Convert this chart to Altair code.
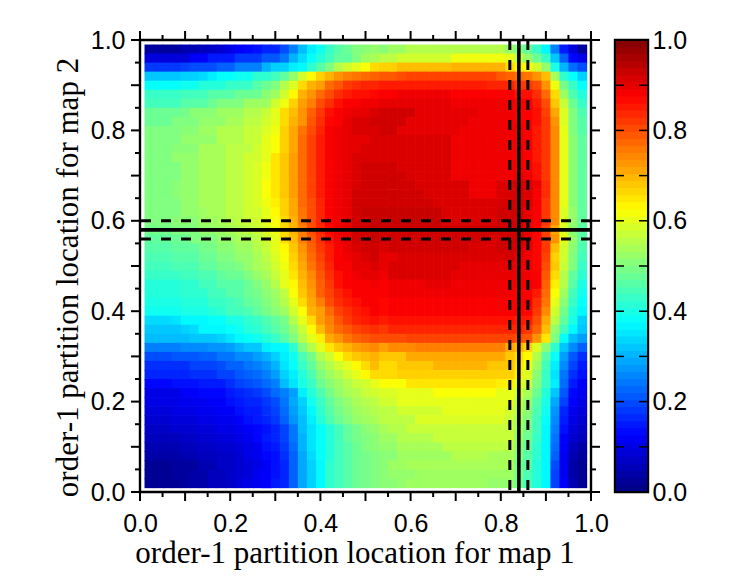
import altair as alt
import pandas as pd

# cell centres of the 49x49 map
centers = [0.02, 0.04, 0.06, 0.08, 0.10, 0.12, 0.14, 0.16, 0.18, 0.20, 0.22, 0.24, 0.26, 0.28, 0.30, 0.32, 0.34,
           0.36, 0.38, 0.40, 0.42, 0.44, 0.46, 0.48, 0.50, 0.52, 0.54, 0.56, 0.58, 0.60, 0.62, 0.64, 0.66, 0.68,
           0.70, 0.72, 0.74, 0.76, 0.78, 0.80, 0.82, 0.84, 0.86, 0.88, 0.90, 0.92, 0.94, 0.96, 0.98]

# values in percent, first row is the top of the map (y=0.98 down to y=0.02)
grid = [
    [3,3,3,3,5,5,6,7,8,10,12,13,14,16,16,20,25,31,36,39,43,46,48,50,51,52, 51,53,53,55,55,55,55,55,55,55,55,55,55,55,52,50,47,43,37,25,15,9,3],
    [9,9,9,9,9,12,12,15,15,15,18,18,18,21,21,24,30,34,38,41,44,47,47,50,53,54, 56,56,58,58,58,58,58,58,61,61,61,61,61,61,60,56,52,48,43,32,22,13,10],
    [18,18,18,18,19,20,20,20,22,22,25,25,25,30,33,33,36,37,42,46,50,55,58,60,62,66, 67,67,69,69,69,69,69,69,70,70,70,70,70,70,66,64,63,58,52,40,30,23,20],
    [32,32,32,32,33,33,34,36,38,38,39,39,42,42,44,47,52,58,63,67,70,73,75,76,77,78, 79,79,80,81,81,81,81,81,81,81,81,81,81,79,78,77,76,73,69,54,42,38,33],
    [38,38,38,38,39,39,41,41,41,43,43,43,46,48,50,55,59,66,70,72,77,79,82,83,84,84, 85,85,85,85,85,85,85,85,85,85,85,85,84,84,84,82,82,80,73,61,49,43,38],
    [43,43,43,43,44,44,44,46,46,46,48,48,48,51,53,58,63,70,73,77,80,83,85,86,86,87, 88,88,89,89,89,89,89,89,88,88,88,88,88,88,88,86,86,83,77,66,53,45,41],
    [44,44,44,44,46,46,46,48,50,50,50,53,53,53,58,61,67,72,75,80,83,86,88,88,89,89, 90,90,90,90,90,90,90,90,89,89,89,89,89,89,89,88,88,85,80,68,57,48,43],
    [48,48,48,48,49,51,51,51,53,53,53,55,55,57,60,66,69,73,78,82,86,88,89,90,90,91, 92,92,92,92,90,90,90,90,90,90,90,89,89,89,89,88,88,86,81,71,59,50,45],
    [48,48,48,50,50,50,52,52,52,54,54,56,56,58,60,66,70,73,79,83,87,88,90,91,91,92, 92,92,92,90,90,90,90,90,90,90,89,89,89,89,89,88,88,86,82,73,59,50,46],
    [50,50,50,50,51,51,53,53,55,55,55,57,57,59,61,67,71,76,80,84,88,89,90,91,91,91, 92,92,90,90,90,90,90,90,90,89,89,89,89,89,89,89,88,85,82,74,60,50,46],
    [50,50,50,50,52,52,52,52,55,55,55,57,57,60,62,67,71,77,81,85,88,89,90,90,90,91, 91,91,91,91,91,91,91,91,89,89,89,89,89,89,89,89,88,85,82,74,60,51,47],
    [50,50,50,51,51,51,54,54,54,56,56,56,58,60,62,67,71,77,81,85,88,89,90,90,91,91, 91,91,91,91,91,91,91,91,89,89,89,89,89,89,89,89,88,85,82,74,60,51,47],
    [50,50,50,52,52,52,54,54,54,56,56,58,58,60,65,68,72,77,81,85,88,89,90,91,91,91, 91,91,91,91,91,91,91,91,89,89,89,89,89,89,89,89,88,85,82,74,60,51,47],
    [50,50,50,50,52,52,54,54,54,56,56,58,59,61,65,68,72,77,81,85,88,89,90,91,92,92, 92,92,91,91,91,91,91,91,89,89,89,89,89,89,89,89,88,86,82,74,60,51,47],
    [50,50,50,50,52,52,54,54,54,56,56,58,59,61,65,68,72,77,81,85,88,89,90,91,92,92, 92,92,92,91,91,91,91,91,89,89,89,89,89,89,89,90,89,86,82,74,60,51,47],
    [50,50,50,51,52,52,54,54,54,56,56,58,59,62,65,68,72,77,81,85,88,89,90,91,92,92, 92,92,92,92,91,91,91,91,91,91,89,89,89,91,91,92,91,89,83,74,60,51,47],
    [50,50,50,51,52,52,54,54,54,56,56,58,59,62,65,68,72,77,81,85,88,89,90,92,92,92, 92,92,92,92,92,91,91,91,91,91,89,89,89,91,91,92,91,88,83,74,60,51,47],
    [50,50,50,50,52,52,54,54,54,56,56,58,59,61,64,67,71,77,80,84,88,89,90,92,92,92, 92,92,92,92,92,92,91,91,91,91,91,91,91,91,92,92,91,88,82,74,60,51,47],
    [50,50,50,50,52,52,53,54,54,56,56,58,58,60,63,67,71,76,80,84,88,89,90,92,93,93, 93,93,93,93,93,93,93,91,91,91,91,91,91,92,92,92,90,88,82,74,59,52,47],
    [50,50,50,51,51,51,53,53,54,55,56,57,58,60,62,66,70,76,80,84,88,89,90,92,92,93, 93,93,93,93,93,93,93,91,91,91,91,91,91,92,92,92,90,88,82,74,59,52,47],
    [49,49,49,50,50,50,52,52,53,54,55,56,57,59,61,66,70,75,80,84,87,89,90,92,92,93, 92,92,92,92,92,92,92,92,92,92,92,92,92,92,92,92,90,87,81,71,59,51,46],
    [47,47,47,48,48,50,50,50,52,52,54,54,56,58,60,66,69,75,79,83,86,89,90,92,92,93, 92,92,92,92,92,92,92,92,92,92,92,92,91,92,92,92,90,87,81,73,60,52,46],
    [46,46,46,47,47,47,49,49,51,51,53,53,55,57,60,63,68,73,78,82,85,88,90,91,92,92, 91,92,92,92,92,92,92,92,92,92,91,91,91,92,92,91,90,87,82,69,58,51,45],
    [45,45,45,46,46,46,48,48,50,50,52,52,54,56,59,62,67,72,77,81,85,88,89,90,91,92, 90,90,91,91,91,91,91,91,91,91,91,91,91,91,92,90,89,87,81,67,58,50,44],
    [44,44,44,45,45,45,47,47,49,49,50,52,54,55,58,61,66,71,76,80,84,88,88,90,90,91, 90,91,91,91,91,91,91,91,91,90,90,90,90,90,90,89,89,87,80,68,57,50,43],
    [43,43,43,43,44,44,45,45,47,48,48,50,52,54,57,60,65,70,74,79,83,86,88,89,90,90, 89,91,91,91,91,91,91,91,90,90,90,90,90,90,90,90,89,88,79,66,55,47,42],
    [41,41,41,41,42,42,44,44,46,46,46,48,50,52,55,60,63,69,73,78,82,86,88,88,88,89, 88,89,89,89,89,90,90,90,89,89,89,89,89,89,89,89,89,88,78,64,55,46,40],
    [41,41,41,41,42,42,42,44,44,46,46,48,49,51,53,56,62,68,72,78,81,84,86,88,88,88, 88,89,89,89,89,89,89,89,89,89,89,89,89,89,89,88,88,85,77,62,53,44,39],
    [40,40,40,40,41,41,41,43,43,44,45,47,48,50,52,55,60,66,71,75,80,83,85,86,88,88, 87,88,88,88,88,88,88,88,88,88,88,88,88,88,88,88,88,83,76,60,51,43,38],
    [39,39,39,39,40,40,40,41,42,44,44,45,47,49,51,53,58,62,70,72,77,81,83,85,86,88, 87,88,88,88,88,88,88,88,88,88,88,88,88,88,88,88,87,82,74,58,49,41,37],
    [34,34,34,35,37,37,37,38,38,40,40,42,43,45,47,49,55,60,66,72,75,79,82,84,85,86, 85,86,86,86,86,86,86,86,86,86,86,86,86,86,86,85,85,80,71,56,47,40,33],
    [32,32,32,32,33,34,37,37,37,38,39,41,42,44,46,48,52,57,63,69,74,77,79,81,82,83, 82,84,84,84,84,84,84,84,84,84,84,84,84,84,84,84,82,78,69,52,44,37,32],
    [31,31,31,31,31,32,32,32,33,35,37,38,39,41,43,46,50,55,60,64,71,73,76,78,79,80, 80,80,80,81,81,81,81,81,81,81,81,81,81,81,81,80,79,73,65,50,38,31,28],
    [25,25,25,25,26,26,26,27,27,28,30,32,32,36,37,37,42,50,55,60,65,68,70,72,73,74, 72,74,74,74,75,75,75,75,75,75,75,75,75,75,71,70,67,59,51,42,32,26,22],
    [20,20,20,21,21,21,22,22,24,24,26,26,28,30,33,36,39,45,49,55,58,62,66,68,69,70, 68,68,68,71,71,71,71,71,71,71,71,71,71,71,68,66,63,55,46,38,28,21,17],
    [17,17,17,17,17,19,19,19,20,22,22,24,25,27,30,35,38,43,47,52,55,58,60,63,66,69, 66,66,68,68,68,68,70,70,70,70,70,70,68,68,68,65,61,53,44,36,26,19,15],
    [16,16,16,16,16,17,17,17,19,19,21,22,23,25,28,33,36,41,45,50,53,55,58,60,63,66, 66,66,67,67,67,67,67,67,67,67,67,67,67,67,67,64,59,51,43,35,24,17,14],
    [13,13,13,14,14,14,15,15,15,17,19,20,21,23,25,31,35,40,43,48,51,53,55,57,58,60, 62,62,62,65,65,65,65,65,65,65,65,65,65,64,64,60,57,50,43,36,23,15,12],
    [10,10,10,10,12,12,13,13,13,15,16,17,18,20,23,25,28,36,41,45,49,52,54,55,57,58, 59,59,60,60,60,60,62,62,62,62,62,62,62,60,60,58,54,48,41,32,21,13,11],
    [10,10,10,10,11,11,11,12,12,14,15,16,16,18,20,24,29,33,39,43,47,50,52,54,55,56, 58,58,60,60,60,60,60,60,60,60,60,60,60,60,60,56,52,46,40,29,19,12,10],
    [9,9,9,10,10,10,11,11,12,12,14,15,15,17,19,23,28,32,37,42,46,49,51,53,54,55, 56,56,58,58,58,58,58,60,60,60,60,60,60,60,58,55,51,45,39,27,16,11,9],
    [8,8,8,9,9,9,10,10,11,11,12,14,15,16,18,22,27,31,36,41,45,48,50,52,53,54, 56,56,56,56,59,59,59,59,59,59,59,59,59,59,57,54,50,44,38,26,15,10,8],
    [7,7,7,8,8,8,9,9,10,10,11,12,13,14,16,19,24,31,35,38,41,44,47,49,51,52, 54,55,55,57,57,57,57,57,57,57,57,57,57,57,57,53,49,44,37,25,14,9,7],
    [6,6,6,6,7,7,8,8,9,9,10,11,13,15,16,19,24,30,35,38,41,44,47,49,50,51, 53,53,55,55,55,55,57,57,57,57,57,57,57,57,57,52,48,43,37,24,12,8,6],
    [5,5,5,5,6,6,7,7,8,8,9,10,11,14,15,18,23,30,35,38,41,44,46,48,50,51, 52,52,54,54,54,54,54,56,56,56,56,56,56,56,56,51,47,42,37,23,12,6,4],
    [4,4,4,4,5,5,6,6,7,7,8,10,11,13,14,17,22,29,34,38,41,44,46,48,49,50, 51,51,53,53,53,53,53,53,55,55,55,55,54,54,54,50,46,42,37,22,11,5,3],
    [2,2,2,3,3,3,5,5,7,7,8,9,10,12,14,16,22,29,33,37,42,44,46,48,49,50, 51,53,53,54,54,54,54,54,54,54,54,54,54,54,54,49,46,41,37,20,11,4,2],
    [2,2,2,3,3,4,4,6,6,7,8,9,11,12,14,16,22,29,33,37,42,44,46,48,49,50, 51,52,52,52,53,53,53,53,53,53,53,53,53,53,53,49,45,41,37,19,11,4,2],
    [2,2,2,2,3,4,4,6,6,7,9,10,11,12,15,16,22,29,33,37,42,44,46,48,49,50, 51,51,52,53,53,53,53,53,53,53,53,53,52,52,52,48,44,41,37,19,12,5,2],
]

# colour bar bands, lower edges
bar_levels = [0.000, 0.016, 0.031, 0.047, 0.062, 0.078, 0.094, 0.109, 0.125, 0.141, 0.156, 0.172, 0.188, 0.203,
              0.219, 0.234, 0.250, 0.266, 0.281, 0.297, 0.312, 0.328, 0.344, 0.359, 0.375, 0.391, 0.406, 0.422,
              0.438, 0.453, 0.469, 0.484, 0.500, 0.516, 0.531, 0.547, 0.562, 0.578, 0.594, 0.609, 0.625, 0.641,
              0.656, 0.672, 0.688, 0.703, 0.719, 0.734, 0.750, 0.766, 0.781, 0.797, 0.812, 0.828, 0.844, 0.859,
              0.875, 0.891, 0.906, 0.922, 0.938, 0.953, 0.969, 0.984]

label_ticks = [0.0, 0.2, 0.4, 0.6, 0.8, 1.0]
major_ticks = [0.0, 0.1, 0.2, 0.3, 0.4, 0.5, 0.6, 0.7, 0.8, 0.9, 1.0]
minor_ticks = [0.05, 0.15, 0.25, 0.35, 0.45, 0.55, 0.65, 0.75, 0.85, 0.95]
solid_x = [0.84]
dashed_x = [0.82, 0.86]
solid_y = [0.58]
dashed_y = [0.56, 0.60]

W = 451
H = 452
BAR_W = 33

stops = [0, 0.125, 0.375, 0.625, 0.875, 1]
stop_colors = ["#000080", "#0000ff", "#00ffff", "#ffff00", "#ff0000", "#800000"]
color_scale = alt.Scale(domain=stops, range=stop_colors, interpolate="rgb")
unit = alt.Scale(domain=[0, 1], nice=False, zero=False)

axis_opts = dict(values=label_ticks, format=".1f", ticks=False, domain=False, grid=False, labelFontSize=25,
                 labelFont="Liberation Sans", labelColor="black", labelFlush=False,
                 titleFont="Liberation Serif", titleFontSize=31, titleFontWeight="normal", titleColor="black")
x_axis = alt.Axis(title="order-1 partition location for map 1", labelPadding=19, titlePadding=2,
                  titleX=W / 2 - 11, **axis_opts)
y_axis = alt.Axis(title="order-1 partition location for map 2", labelPadding=15, titlePadding=6,
                  titleY=H / 2 + 11, **axis_opts)
bar_axis = alt.Axis(orient="right", values=label_ticks, format=".1f", ticks=False, domain=False, grid=False,
                    labelFontSize=25, labelFont="Liberation Sans", labelColor="black", labelPadding=4,
                    labelFlush=False, title=None)
px = alt.X("p:Q", scale=unit, axis=x_axis)
py = alt.Y("p:Q", scale=unit, axis=y_axis)

rows = []
for j, row in enumerate(grid):
    for i, v in enumerate(row):
        # small overlap so no seams show between the cells
        rows.append({"x0": centers[i] - 0.01, "x1": centers[i] + 0.0115,
                     "y0": centers[48 - j] - 0.0115, "y1": centers[48 - j] + 0.01, "v": v / 100})
cells = pd.DataFrame(rows)

heat = alt.Chart(cells).mark_rect().encode(
    x=alt.X("x0:Q", scale=unit, axis=x_axis),
    x2="x1:Q",
    y=alt.Y("y0:Q", scale=unit, axis=y_axis),
    y2="y1:Q",
    color=alt.Color("v:Q", scale=color_scale, legend=None),
)


def guide_lines(values, enc, dash=None):
    opts = {"color": "black", "strokeWidth": 3.6}
    if dash:
        opts["strokeDash"] = dash
        opts["strokeWidth"] = 3
    return alt.Chart(pd.DataFrame({"p": values})).mark_rule(**opts).encode(enc)


def outer_ticks(values, length, width):
    rule = alt.Chart(pd.DataFrame({"p": values})).mark_rule(color="black", strokeWidth=width)
    return [
        rule.encode(x=px, y=alt.value(H), y2=alt.value(H + length)),
        rule.encode(x=px, y=alt.value(-length), y2=alt.value(0)),
        rule.encode(y=py, x=alt.value(-length), x2=alt.value(0)),
        rule.encode(y=py, x=alt.value(W), x2=alt.value(W + length)),
    ]


main = alt.layer(
    heat,
    guide_lines(solid_x, px),
    guide_lines(dashed_x, px, [10, 10]),
    guide_lines(solid_y, py),
    guide_lines(dashed_y, py, [10, 10]),
    *outer_ticks(major_ticks, 9, 2),
    *outer_ticks(minor_ticks, 5, 2),
).properties(width=W, height=H)

bar_df = pd.DataFrame({"lo": bar_levels})
bar_df["hi"] = bar_df["lo"] + 0.0175
bar_df["mid"] = bar_df["lo"] + 0.0078
bar_y = alt.Y("p:Q", scale=unit, axis=bar_axis)

bar_rects = alt.Chart(bar_df).mark_rect().encode(
    y=alt.Y("lo:Q", scale=unit, axis=bar_axis),
    y2="hi:Q",
    color=alt.Color("mid:Q", scale=color_scale, legend=None),
)
bar_rule = alt.Chart(pd.DataFrame({"p": major_ticks[1:-1]})).mark_rule(color="black", strokeWidth=1.5)
bar_left = bar_rule.encode(y=bar_y, x=alt.value(0), x2=alt.value(9))
bar_right = bar_rule.encode(y=bar_y, x=alt.value(BAR_W - 9), x2=alt.value(BAR_W))
bar_frame = alt.Chart(pd.DataFrame({"a": [0], "b": [1]})).mark_rect(
    fill=None, stroke="black", strokeWidth=2
).encode(y=alt.Y("a:Q", scale=unit, axis=bar_axis), y2="b:Q")

bar = alt.layer(bar_rects, bar_left, bar_right, bar_frame).properties(width=BAR_W, height=H)

chart = alt.hconcat(main, bar, spacing=2).resolve_scale(color="independent").properties(
    padding={"left": 43, "top": 18, "right": 5, "bottom": 5}
).configure_view(stroke="black", strokeWidth=2.4)

chart.save("out.html", embed_options={"renderer": "svg", "actions": False})
